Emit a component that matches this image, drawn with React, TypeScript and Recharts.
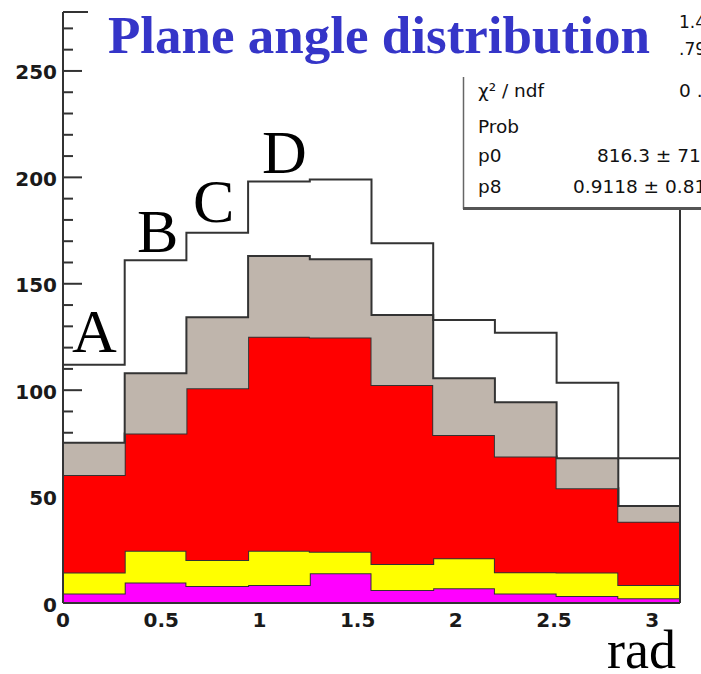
import { Area, ComposedChart, XAxis, YAxis } from "recharts";

// 10 bins over [0, pi]; per-bin contents of each component, bottom of the stack first
const binCount = 10;
const magentaCounts = [4.5, 9.6, 8.0, 8.5, 14.0, 6.1, 6.9, 4.5, 3.3, 2.2];
const yellowCounts = [9.8, 15.0, 12.2, 16.1, 10.1, 12.2, 14.1, 9.9, 11.0, 6.3];
const redCounts = [45.9, 55.1, 80.7, 100.5, 100.7, 84.1, 57.9, 54.4, 39.6, 29.7];
const grayCounts = [15.1, 28.2, 33.4, 38.0, 36.7, 32.9, 26.7, 25.5, 14.1, 7.4];
const restCounts = [36.7, 53.1, 39.7, 34.9, 37.5, 33.7, 27.4, 32.7, 35.5, 22.4];

const xTicks = [0, 0.5, 1, 1.5, 2, 2.5, 3];
const yTicks = [
  0, 10, 20, 30, 40, 50, 60, 70, 80, 90, 100, 110, 120, 130, 140, 150, 160,
  170, 180, 190, 200, 210, 220, 230, 240, 250, 260, 270
];
const yMax = 277.7;

const regionLabels = [
  { text: "A", x: 72, y: 352 },
  { text: "B", x: 137, y: 252 },
  { text: "C", x: 193, y: 222 },
  { text: "D", x: 262, y: 173 }
];

const fitRows = [
  { name: "χ² / ndf", value: "0 .", vx: 679, y: 97 },
  { name: "Prob", value: "", vx: 0, y: 133 },
  { name: "p0", value: "816.3 ± 71", vx: 597, y: 162 },
  { name: "p8", value: "0.9118 ± 0.81", vx: 573, y: 193 }
];
const topStats = [
  { value: "1.4", y: 28 },
  { value: ".79", y: 55 }
];

// step histogram: one point per bin edge, last edge repeats the last bin
const binWidth = Math.PI / binCount;
const data = Array.from({ length: binCount + 1 }, (_, i) => {
  const b = Math.min(i, binCount - 1);
  return {
    x: i * binWidth,
    magenta: magentaCounts[b],
    yellow: yellowCounts[b],
    red: redCounts[b],
    gray: grayCounts[b],
    rest: restCounts[b]
  };
});

const W = 701;
const H = 674;
const chartMargin = { top: 11, right: 20, bottom: 61, left: 53 };
const axisColor = "#333333";
const tickFont = { fontFamily: "DejaVu Sans", fontWeight: 700, fontSize: 20, fill: "#1a1a1a" };
const statFont = { fontFamily: "DejaVu Sans", fontSize: 18.5, fill: "#111" };

function YTick({ x, y, payload }: any) {
  const v = payload.value as number;
  const major = v % 50 === 0;
  return (
    <g>
      <line x1={x} x2={x + (major ? 19 : 10)} y1={y} y2={y} stroke={axisColor} strokeWidth={2} />
      {major && (
        <text x={x - 6} y={y + 8.5} textAnchor="end" {...tickFont}>
          {v}
        </text>
      )}
    </g>
  );
}

function XTick({ x, y, payload }: any) {
  return (
    <text x={x} y={y + 24} textAnchor="middle" {...tickFont}>
      {payload.value}
    </text>
  );
}

const layers = [
  { key: "magenta", fill: "#ff00ff" },
  { key: "yellow", fill: "#ffff00" },
  { key: "red", fill: "#ff0000" },
  { key: "gray", fill: "#bfb5ac" },
  { key: "rest", fill: "none" }
];

const layerStyle = { position: "absolute" as const, left: 0, top: 0 };

// the same frame in both charts so the two plot areas line up
function Frame({ showTicks }: { showTicks: boolean }) {
  return [
    <XAxis
      key="xb"
      dataKey="x"
      type="number"
      domain={[0, Math.PI]}
      allowDataOverflow
      ticks={xTicks}
      interval={0}
      height={10}
      tickSize={0}
      tickMargin={0}
      tickLine={false}
      tick={showTicks ? false : <XTick />}
      axisLine={showTicks ? false : { stroke: axisColor, strokeWidth: 2 }}
    />,
    <XAxis
      key="xt"
      xAxisId="frameTop"
      orientation="top"
      dataKey="x"
      type="number"
      domain={[0, Math.PI]}
      allowDataOverflow
      height={1}
      tick={false}
      tickLine={false}
      axisLine={showTicks ? false : { stroke: axisColor, strokeWidth: 2 }}
    />,
    <YAxis
      key="yl"
      type="number"
      domain={[0, yMax]}
      allowDataOverflow
      ticks={yTicks}
      interval={0}
      width={10}
      tickSize={0}
      tickMargin={0}
      tickLine={false}
      tick={showTicks ? <YTick /> : false}
      axisLine={showTicks ? false : { stroke: axisColor, strokeWidth: 2 }}
    />,
    <YAxis
      key="yr"
      yAxisId="frameRight"
      orientation="right"
      type="number"
      domain={[0, yMax]}
      allowDataOverflow
      width={1}
      tick={false}
      tickLine={false}
      axisLine={showTicks ? false : { stroke: axisColor, strokeWidth: 2 }}
    />
  ];
}

export default function App() {
  return (
    <div style={{ position: "absolute", left: 0, top: 0, width: W, height: H, background: "#fff" }}>
      {/* y ticks sit beneath the filled histograms */}
      <div style={layerStyle}>
        <ComposedChart width={W} height={H} data={data} margin={chartMargin}>
          {Frame({ showTicks: true })}
        </ComposedChart>
      </div>

      <div style={layerStyle}>
        <ComposedChart width={W} height={H} data={data} margin={chartMargin}>
          {Frame({ showTicks: false })}
          {layers.map((l) => (
            <Area
              key={l.key}
              dataKey={l.key}
              stackId="stack"
              type="stepAfter"
              fill={l.fill}
              fillOpacity={1}
              stroke={axisColor}
              strokeWidth={2}
              dot={false}
              activeDot={false}
              isAnimationActive={false}
            />
          ))}
        </ComposedChart>
      </div>

      <svg width={W} height={H} style={{ ...layerStyle, pointerEvents: "none" }}>
        {/* stats boxes in the top right corner */}
        <rect x={463} y={0} width={238} height={208} fill="#fff" />
        <line x1={463.5} x2={463.5} y1={77} y2={209} stroke="#666" strokeWidth={1.5} />
        <line x1={463} x2={701} y1={208.5} y2={208.5} stroke="#555" strokeWidth={3} />
        {topStats.map((s) => (
          <text key={s.value} x={679} y={s.y} {...statFont} fontSize={17}>
            {s.value}
          </text>
        ))}
        {fitRows.map((r) => (
          <g key={r.name}>
            <text x={478} y={r.y} {...statFont}>
              {r.name}
            </text>
            {r.value && (
              <text x={r.vx} y={r.y} {...statFont}>
                {r.value}
              </text>
            )}
          </g>
        ))}

        {/* title */}
        <rect x={88} y={0} width={575} height={77} fill="#fff" />
        <text
          x={108}
          y={53}
          fontFamily="Liberation Serif"
          fontWeight={700}
          fontSize={53}
          fill="#3535c8"
        >
          Plane angle distribution
        </text>

        {regionLabels.map((l) => (
          <text key={l.text} x={l.x} y={l.y} fontFamily="Liberation Serif" fontSize={62} fill="#000">
            {l.text}
          </text>
        ))}
        <text x={676} y={668} textAnchor="end" fontFamily="Liberation Serif" fontSize={54} fill="#000">
          rad
        </text>
      </svg>
    </div>
  );
}
